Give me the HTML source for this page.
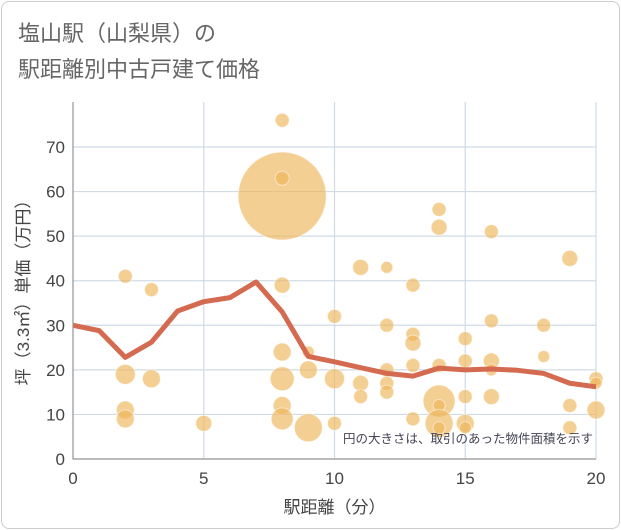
<!DOCTYPE html>
<html><head><meta charset="utf-8"><style>
body{margin:0;background:#fff;font-family:"Liberation Sans","Noto Sans CJK JP",sans-serif;}
#card{position:absolute;left:1px;top:1px;width:617px;height:526px;border:1px solid #ccc;border-radius:8px;background:#fff;}
</style></head><body>
<div id="card"></div>
<svg id="chart" width="621" height="530" style="position:absolute;left:0;top:0">
<text x="18" y="41" font-size="22" fill="#666" font-family="Liberation Sans,Noto Sans CJK JP,sans-serif">塩山駅（山梨県）の</text>
<text x="18" y="77" font-size="22" fill="#666" font-family="Liberation Sans,Noto Sans CJK JP,sans-serif">駅距離別中古戸建て価格</text>
<g id="grid"></g><g id="bubbles"></g><g id="line"></g><g id="axes"></g>
</svg>
<script>
const xTicks=[0,5,10,15,20];
const yTicks=[0,10,20,30,40,50,60,70];
const ptX=[2,2,2,2,3,3,5,8,8,8,8,8,8,8,8,9,9,9,10,10,10,11,11,11,12,12,12,12,12,13,13,13,13,13,14,14,14,14,14,14,14,15,15,15,15,15,16,16,16,16,16,18,18,19,19,19,20,20,20];
const ptY=[41,19,11,9,38,18,8,76,59,63,39,24,18,12,9,24,20,7,32,18,8,43,17,14,43,30,20,17,15,39,28,26,21,9,56,52,21,13,12,8,7,27,22,14,8,7,51,31,22,20,14,30,23,45,12,7,18,11,17];
const ptSize=[7,10,9,9,7,9,8,7,44,7,8,9,12,9,11,6,9,14,7,10,7,8,8,7,6,7,7,7,7,7,7,8,7,7,7,8,7,16,6,14,6,7,7,7,9,6,7,7,8,6,8,7,6,8,7,7,7,9,6];
const lineX=[0,1,2,3,4,5,6,7,8,9,10,11,12,13,14,15,16,17,18,19,20];
const lineY=[30,28.8,22.8,26.2,33.2,35.3,36.2,39.7,33,23,21.8,20.5,19.2,18.6,20.4,20,20.2,19.9,19.2,17,16.2];
const L=73,R=596,T=102,B=459;
const sx=v=>L+(R-L)*v/20, sy=v=>B-(B-147)*v/70;
const NS="http://www.w3.org/2000/svg";
function mk(tag,attrs,parent){const e=document.createElementNS(NS,tag);for(const k in attrs)e.setAttribute(k,attrs[k]);document.getElementById(parent).appendChild(e);return e;}
xTicks.forEach(v=>{
 const g=mk('line',{x1:sx(v),x2:sx(v),y1:T,y2:B,stroke:'#d0dbe6','stroke-width':1.2},'grid');
 
 
 const t=mk('text',{x:sx(v),y:B+25,'font-size':17,fill:'#444','text-anchor':'middle'},'axes');
 t.textContent=v;
 
 
});
yTicks.forEach(v=>{
 const g=mk('line',{x1:L,x2:R,y1:sy(v),y2:sy(v),stroke:'#d0dbe6','stroke-width':1.2},'grid');
 
 
 const t=mk('text',{x:L-8,y:sy(v)+6,'font-size':17,fill:'#444','text-anchor':'end'},'axes');
 t.textContent=v;
 
 
});
ptX.forEach((x,i)=>{
 const c=mk('circle',{cx:sx(x),cy:sy(ptY[i]),r:ptSize[i],fill:'#eeb559','fill-opacity':0.65,stroke:'#fff','stroke-opacity':0.5},'bubbles');
 
 
});
const p=mk('polyline',{points:lineX.map((x,i)=>sx(x)+','+sy(lineY[i])).join(' '),fill:'none',stroke:'#d46a50','stroke-width':5,'stroke-linejoin':'round'},'line');


const ax=mk('path',{d:`M${L},${T} V${B} H${R}`,fill:'none',stroke:'#999','stroke-width':1.2},'axes');


const xt=mk('text',{x:(L+R)/2,y:513,'font-size':17,fill:'#444','text-anchor':'middle'},'axes');
xt.textContent='駅距離（分）';


const yt=mk('text',{x:0,y:0,'font-size':17,fill:'#444','text-anchor':'middle',transform:`translate(29,${(T+B)/2+8}) rotate(-90)`},'axes');
yt.textContent='坪（3.3㎡）単価（万円）';


const note=mk('text',{x:593,y:443,'font-size':12.5,fill:'#445','text-anchor':'end'},'axes');
note.textContent='円の大きさは、取引のあった物件面積を示す';


</script>
</body></html>
